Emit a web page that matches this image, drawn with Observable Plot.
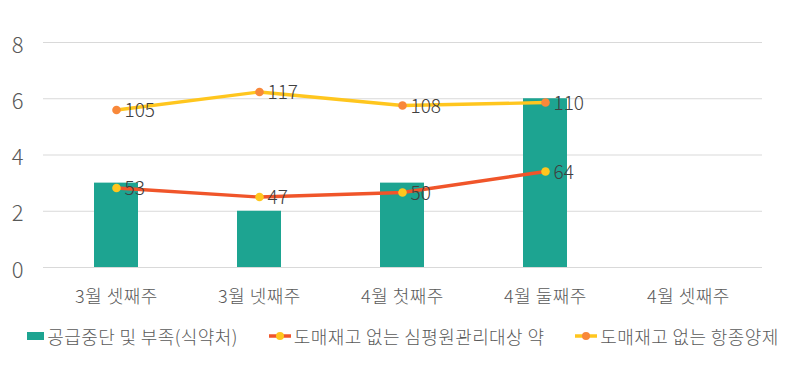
<!DOCTYPE html>
<html>
<head>
<meta charset="utf-8">
<script src="https://cdn.jsdelivr.net/npm/d3@7"></script>
<script src="https://cdn.jsdelivr.net/npm/@observablehq/plot@0.6"></script>
<style>
  html, body { margin: 0; padding: 0; background: #fff; }
  body { width: 796px; height: 366px; overflow: hidden; font-family: "Noto Sans CJK KR", "Noto Sans", sans-serif; }
  #legend { display: flex; justify-content: center; align-items: center; gap: 31px; height: 40px; color: #595959; font-size: 18px; letter-spacing: 0.4px; font-weight: 300; padding-left: 10px; }
  .item { display: flex; align-items: center; }
  .sw { margin-right: 3px; }
</style>
</head>
<body>
<div id="chart"></div>
<div id="legend"></div>
<script>
const categories = ["3월 셋째주", "3월 넷째주", "4월 첫째주", "4월 둘째주", "4월 셋째주"];
const seriesNames = ["공급중단 및 부족(식약처)", "도매재고 없는 심평원관리대상 약", "도매재고 없는 항종양제"];
const supplyShortage = [3, 2, 3, 6];          // bars (primary axis)
const hiraDrugs = [53, 47, 50, 64];          // red line (secondary axis)
const anticancerDrugs = [105, 117, 108, 110]; // yellow line (secondary axis)
const yTicks = [0, 2, 4, 6, 8];
const primaryMax = 8;
const secondaryMax = 150;

const colors = {
  bar: "#1DA491",
  redLine: "#F0552A", redMarker: "#FFC61E",
  yellowLine: "#FFC61E", yellowMarker: "#F8883A",
  text: "#404040", axis: "#595959", grid: "#D9D9D9"
};

const bars = supplyShortage.map((v, i) => ({cat: categories[i], v}));
const red = hiraDrugs.map((v, i) => ({cat: categories[i], v, s: v * primaryMax / secondaryMax}));
const yel = anticancerDrugs.map((v, i) => ({cat: categories[i], v, s: v * primaryMax / secondaryMax}));

const chart = Plot.plot({
  width: 796,
  height: 316,
  marginLeft: 43,
  marginRight: 34,
  marginTop: 42,
  marginBottom: 49,
  style: {fontFamily: '"Noto Sans CJK KR", "Noto Sans", sans-serif', background: "#fff", fontWeight: 300},
  x: {domain: categories, paddingInner: 0.69, paddingOuter: 0.345, label: null},
  y: {domain: [0, primaryMax], label: null},
  marks: [
    Plot.ruleY(yTicks, {stroke: colors.grid, strokeWidth: 1}),
    Plot.axisY({ticks: yTicks, tickSize: 0, tickPadding: 20, fontSize: 22, dy: 3, fill: colors.axis, label: null}),
    Plot.axisX({tickSize: 0, tickPadding: 23, fontSize: 18, fill: colors.axis, label: null}),
    Plot.barY(bars, {x: "cat", y: "v", fill: colors.bar}),
    Plot.line(red, {x: "cat", y: "s", stroke: colors.redLine, strokeWidth: 3.3}),
    Plot.line(yel, {x: "cat", y: "s", stroke: colors.yellowLine, strokeWidth: 3.3}),
    Plot.dot(red, {x: "cat", y: "s", r: 4.3, fill: colors.redMarker, stroke: "none"}),
    Plot.dot(yel, {x: "cat", y: "s", r: 4.3, fill: colors.yellowMarker, stroke: "none"}),
    Plot.text(red, {x: "cat", y: "s", text: d => String(d.v), textAnchor: "start", dx: 8, dy: 1, fontSize: 19, fill: colors.text}),
    Plot.text(yel, {x: "cat", y: "s", text: d => String(d.v), textAnchor: "start", dx: 8, dy: 1, fontSize: 19, fill: colors.text})
  ]
});
document.getElementById("chart").appendChild(chart);
d3.select(chart).selectAll("[aria-label='x-axis tick label'] text, [aria-label='x-axis tick label']").style("letter-spacing", "0.5px");

// legend
const legend = d3.select("#legend");
const i1 = legend.append("div").attr("class", "item");
i1.append("svg").attr("class", "sw").attr("width", 17).attr("height", 10)
  .append("rect").attr("x", 0).attr("y", 1).attr("width", 17).attr("height", 8).attr("fill", colors.bar);
i1.append("span").text(seriesNames[0]);

[[seriesNames[1], colors.redLine, colors.redMarker], [seriesNames[2], colors.yellowLine, colors.yellowMarker]].forEach(([name, lc, mc]) => {
  const it = legend.append("div").attr("class", "item");
  const s = it.append("svg").attr("class", "sw").attr("width", 22).attr("height", 10);
  s.append("line").attr("x1", 0).attr("x2", 22).attr("y1", 5).attr("y2", 5).attr("stroke", lc).attr("stroke-width", 3.5);
  s.append("circle").attr("cx", 11).attr("cy", 5).attr("r", 4).attr("fill", mc);
  it.append("span").text(name);
});
</script>
</body>
</html>
